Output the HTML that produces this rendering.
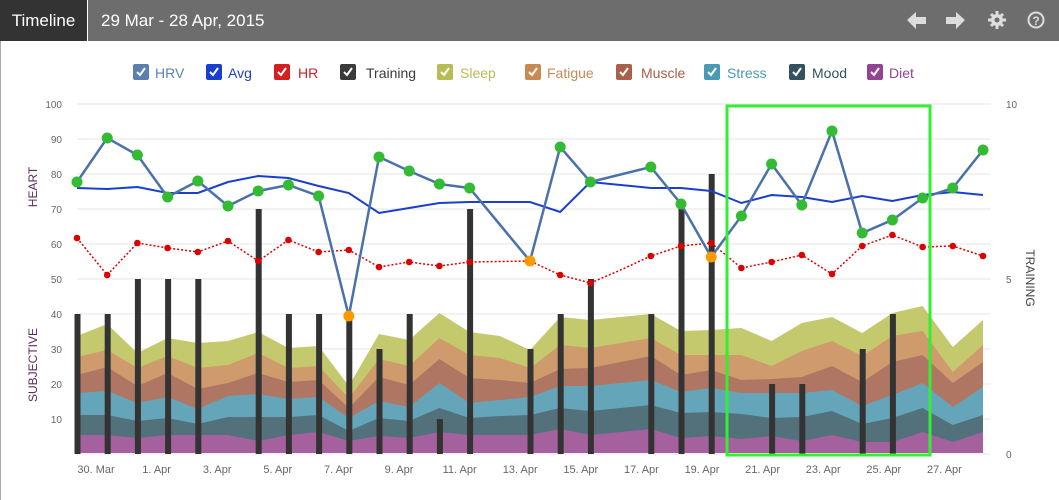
<!DOCTYPE html>
<html><head><meta charset="utf-8">
<style>
html,body{margin:0;padding:0;width:1059px;height:500px;overflow:hidden;background:#fff;font-family:"Liberation Sans",sans-serif;}
#hdr{position:absolute;left:0;top:0;width:1059px;height:41px;background:#6d6d6d;}
#tl{position:absolute;left:0;top:0;width:87px;height:41px;background:#333;border-right:1px solid #fff;color:#fff;font-size:17px;line-height:41px;text-align:center;}
#dt{position:absolute;left:101px;top:0;color:#fff;font-size:17px;line-height:41px;}
#lb{position:absolute;left:0;top:41px;width:1px;height:459px;background:#aaa;}
svg{position:absolute;left:0;top:0;}
</style></head><body>
<div id="hdr"><div id="tl">Timeline</div><div id="dt">29 Mar - 28 Apr, 2015</div></div>
<div id="lb"></div>
<svg id="s" width="1059" height="500" xmlns="http://www.w3.org/2000/svg"></svg>
<script>
var s='';
function X(i){return 77+30.2*i;}
// header icons
s+='<g fill="#ddd"><polygon points="907,20 916,12 916,17 926,17 926,24 916,24 916,29"/><polygon points="965,20 956,12 956,17 946,17 946,24 956,24 956,29"/>'+
'<circle cx="997" cy="20" r="6"/><g stroke="#ddd" stroke-width="3">'+
'<line x1="997" y1="11" x2="997" y2="29"/><line x1="988" y1="20" x2="1006" y2="20"/><line x1="991" y1="14" x2="1003" y2="26"/><line x1="1003" y1="14" x2="991" y2="26"/></g></g>'+
'<circle cx="997" cy="20" r="2.5" fill="#6d6d6d"/>'+
'<circle cx="1036" cy="20" r="7.5" fill="none" stroke="#ddd" stroke-width="2"/><text x="1036" y="25" font-size="12" font-weight="bold" fill="#ddd" text-anchor="middle">?</text>';
// legend
var leg=[[133,155,'HRV','#5b7fb0'],[206,228,'Avg','#1a3fcf'],[274,298,'HR','#d42020'],[340,366,'Training','#3a3a3a'],[437,460,'Sleep','#b6bd52'],[525,547,'Fatigue','#c88a52'],[616,641,'Muscle','#a8604a'],[704,727,'Stress','#4b9ab5'],[789,812,'Mood','#34525e'],[867,889,'Diet','#934393']];
leg.forEach(function(l){
 s+='<rect x="'+l[0]+'" y="64" width="16" height="16" rx="2" fill="'+l[3]+'"/><polyline points="'+(l[0]+4)+',72 '+(l[0]+7)+',75 '+(l[0]+12)+',68" fill="none" stroke="#fff" stroke-width="2"/>';
 s+='<text x="'+l[1]+'" y="78" font-size="14" fill="'+l[3]+'">'+l[2]+'</text>';
});
// grid
for(var k=0;k<=10;k++){var y=104+35*k;s+='<line x1="77" x2="991" y1="'+y+'" y2="'+y+'" stroke="#e6e6e6" stroke-width="1"/>';
 if(k<10)s+='<text x="62" y="'+(y+4)+'" font-size="10" fill="#666" text-anchor="end">'+(100-10*k)+'</text>';}
s+='<text x="1006" y="108" font-size="10" fill="#666">10</text><text x="1006" y="283" font-size="10" fill="#666">5</text><text x="1006" y="458" font-size="10" fill="#666">0</text>';
s+='<text transform="translate(37,187) rotate(-90)" font-size="12" fill="#5a2e5a" text-anchor="middle">HEART</text>';
s+='<text transform="translate(37,365) rotate(-90)" font-size="12" fill="#5a2e5a" text-anchor="middle">SUBJECTIVE</text>';
s+='<text transform="translate(1026,278) rotate(90)" font-size="12" fill="#444" text-anchor="middle">TRAINING</text>';
// stacked areas: diet,mood,stress,muscle,fatigue,sleep tops
var T=[[435,415,393,375,357,336],[435,415,391,367,350,324],[438,421,403,386,368,353],[435,418,397,373,356,338],[435,424,409,389,368,343],[435,417,396,383,365,341],[441,417,394,373,353,332],[435,417,399,382,368,348],[432,415,397,380,366,346],[441,431,418,408,398,386],[436,418,401,377,359,334],[438,421,407,385,366,340],[432,408,383,359,338,313],[435,418,403,378,355,332],[435,416,400,380,358,336],[435,415,397,383,368,350],[429,408,386,369,345,317],[435,411,386,368,348,320],[432,408,383,362,343,317],[429,405,380,356,338,314],[438,413,392,375,355,331],[436,412,388,370,355,330],[439,414,393,380,355,328],[436,418,393,379,366,341],[441,417,393,377,351,323],[435,411,390,366,341,317],[442,424,406,382,356,333],[442,418,395,362,336,313],[432,408,383,355,331,306],[442,425,407,383,372,347],[432,415,387,362,345,320]];
var cols=['#a4619e','#52717b','#65a5b9','#b07664','#cf9a6c','#c4c96e'];
for(var L=5;L>=0;L--){var p='M'+X(0)+',453';for(var i=0;i<31;i++)p+=' L'+X(i).toFixed(1)+','+T[i][L];p+=' L'+X(30)+',453 Z';s+='<path d="'+p+'" fill="'+cols[L]+'"/>';}
// bars
var B=[[0,314],[1,314],[2,279],[3,279],[4,279],[6,209],[7,314],[8,314],[9,314],[10,349],[11,314],[12,419],[13,209],[15,349],[16,314],[17,279],[19,314],[20,203],[21,174],[23,384],[24,384],[26,349],[27,314]];
B.forEach(function(b){s+='<rect x="'+(X(b[0])-2.5).toFixed(1)+'" y="'+b[1]+'" width="6" height="'+(454-b[1])+'" fill="#333"/>';});
// x labels
var xl=['30. Mar','1. Apr','3. Apr','5. Apr','7. Apr','9. Apr','11. Apr','13. Apr','15. Apr','17. Apr','19. Apr','21. Apr','23. Apr','25. Apr','27. Apr'];
xl.forEach(function(t,j){s+='<text x="'+(96+60.6*j).toFixed(1)+'" y="473" font-size="11" fill="#666" text-anchor="middle">'+t+'</text>';});
// HR
var HR=[238,275,243,248,252,241,261,240,252,250,267,262,266,262,261.5,261,275,283,270,256,246,243,268,262,255,274,246,235,247,246,256];
var hp=HR.map(function(v,i){return X(i).toFixed(1)+','+v;}).join(' ');
s+='<polyline points="'+hp+'" fill="none" stroke="#d00" stroke-width="1.5" stroke-dasharray="2,2"/>';
HR.forEach(function(v,i){if(i!=14&&i!=18)s+='<circle cx="'+X(i).toFixed(1)+'" cy="'+v+'" r="3.3" fill="#d00"/>';});
// Avg
var AV=[188,189,187,193,193,182,176,178,186,193,213,208,203,202,202,202,212,182,185,188,188,191,203,195,197,202,196,201,195,192,195];
s+='<polyline points="'+AV.map(function(v,i){return X(i).toFixed(1)+','+v;}).join(' ')+'" fill="none" stroke="#1a3fcf" stroke-width="2"/>';
// HRV
var HV=[[0,182],[1,138],[2,155],[3,197],[4,181],[5,206],[6,191],[7,185],[8,196],[9,316,1],[10,157],[11,171],[12,184],[13,188],[15,261,1],[16,147],[17,182],[19,167],[20,204],[21,257,1],[22,216],[23,164],[24,205],[25,131],[26,233],[27,220],[28,198],[29,188],[30,150]];
s+='<polyline points="'+HV.map(function(h){return X(h[0]).toFixed(1)+','+h[1];}).join(' ')+'" fill="none" stroke="#4a72a8" stroke-width="2.5"/>';
HV.forEach(function(h){s+='<circle cx="'+X(h[0]).toFixed(1)+'" cy="'+h[1]+'" r="5.5" fill="'+(h[2]?'#f90':'#3b3')+'"/>';});
// green rect
s+='<rect x="727" y="106" width="203" height="349" fill="none" stroke="#3e3" stroke-width="3"/>';
document.getElementById('s').innerHTML=s;
</script>
</body></html>
